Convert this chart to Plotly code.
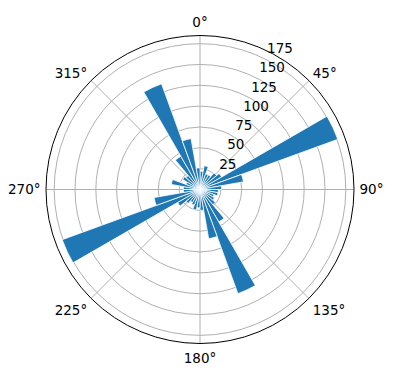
import plotly.graph_objects as go

# counts for 10-degree bins (bin start angles, clockwise from north)
bin_starts = list(range(0, 360, 10))
counts = [22, 29, 20, 20, 26, 30, 176, 53, 26,
          22, 22, 18, 20, 24, 45, 133, 60, 25,
          22, 25, 20, 18, 22, 31, 176, 56, 20,
          20, 35, 18, 24, 22, 46, 135, 62, 26]
radial_ticks = [25, 50, 75, 100, 125, 150, 175]
angle_ticks = [0, 45, 90, 135, 180, 225, 270, 315]

centers = [b + 5 for b in bin_starts]
rmax = max(counts) * 1.05

W, H = 396, 380
cx, cy, R = 200, 189.5, 154
shift_px = 12
label_shift = shift_px * rmax / R  # matplotlib pushes r-labels outward a little
R2 = R + shift_px
R3 = R + 5  # angular labels sit slightly further out


def domain(radius):
    return dict(x=[(cx - radius) / W, (cx + radius) / W],
                y=[(H - cy - radius) / H, (H - cy + radius) / H])


fig = go.Figure()
fig.add_trace(go.Barpolar(
    r=counts, theta=centers, width=[10] * len(centers),
    marker=dict(color="#1f77b4", line=dict(color="white", width=0.8)),
    opacity=1,
))
# helper subplots only carrying tick labels
fig.add_trace(go.Scatterpolar(r=[None], theta=[None], subplot="polar2",
                              mode="markers", showlegend=False))
fig.add_trace(go.Scatterpolar(r=[None], theta=[None], subplot="polar3",
                              mode="markers", showlegend=False))

tfont = dict(size=13.5, family="DejaVu Sans", color="black")

fig.update_layout(
    width=W, height=H,
    margin=dict(l=0, r=0, t=0, b=0),
    paper_bgcolor="white",
    showlegend=False,
    font=dict(family="DejaVu Sans", size=13.5, color="black"),
    polar=dict(
        domain=domain(R),
        bgcolor="white",
        bargap=0,
        radialaxis=dict(
            range=[0, rmax], tickvals=radial_ticks,
            showline=False, ticks="", showticklabels=False, angle=67.5,
            gridcolor="#b0b0b0", gridwidth=0.8, layer="below traces",
        ),
        angularaxis=dict(
            direction="clockwise", rotation=90,
            tickvals=angle_ticks, showticklabels=False,
            showline=True, linecolor="black", linewidth=1,
            ticks="", gridcolor="#b0b0b0", gridwidth=0.8, layer="below traces",
        ),
    ),
    polar2=dict(
        domain=domain(R2),
        bgcolor="rgba(0,0,0,0)",
        radialaxis=dict(
            range=[-label_shift, rmax], tickvals=radial_ticks,
            ticktext=[str(t) for t in radial_ticks],
            showline=False, showgrid=False, ticks="", angle=67.5, tickangle=67.5,
            side="clockwise", tickfont=tfont,
        ),
        angularaxis=dict(visible=False, showgrid=False, showline=False,
                         direction="clockwise", rotation=90),
    ),
    polar3=dict(
        domain=domain(R3),
        bgcolor="rgba(0,0,0,0)",
        radialaxis=dict(visible=False, showgrid=False, showline=False,
                        range=[0, 1]),
        angularaxis=dict(
            direction="clockwise", rotation=90,
            tickvals=angle_ticks, ticktext=[f"{a}°" for a in angle_ticks],
            showline=False, showgrid=False, ticks="", tickfont=tfont,
        ),
    ),
)

fig.write_html("out.html")
